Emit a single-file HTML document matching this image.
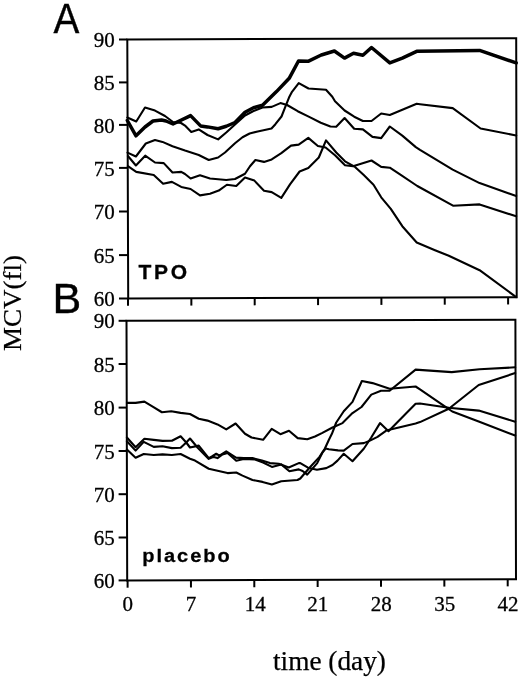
<!DOCTYPE html>
<html><head><meta charset="utf-8"><style>
html,body{margin:0;padding:0;background:#fff;}
body{width:520px;height:677px;overflow:hidden;}
svg{display:block;will-change:transform;}
.num{font-family:"Liberation Serif",serif;font-size:21px;stroke:#000;stroke-width:0.3px;}
.ttl{font-family:"Liberation Serif",serif;font-size:27.3px;stroke:#000;stroke-width:0.25px;}
.mcv{font-family:"Liberation Serif",serif;font-size:27px;stroke:#000;stroke-width:0.25px;}
.big{font-family:"Liberation Sans",sans-serif;font-size:43px;stroke:#000;stroke-width:0.4px;}
.tpo{font-family:"Liberation Sans",sans-serif;font-weight:bold;font-size:21px;letter-spacing:2.7px;stroke:#000;stroke-width:0.3px;}
.plc{font-family:"Liberation Sans",sans-serif;font-weight:bold;font-size:20px;letter-spacing:2.0px;stroke:#000;stroke-width:0.3px;}
</style></head><body>
<svg width="520" height="677" viewBox="0 0 520 677">
<g fill="none" stroke="#000" stroke-linejoin="round" stroke-linecap="round">
<polygon points="127.3,39.5 516.2,38.2 516.7,297.2 128.2,298.5" stroke-width="2.0" stroke-linejoin="miter"/>
<polygon points="126.5,320.8 515.4,319.8 516,579.3 127.2,580.4" stroke-width="2.0" stroke-linejoin="miter"/>
<line x1="119" y1="39.5" x2="127.3" y2="39.5" stroke-width="2.0" stroke-linecap="butt"/>
<line x1="119" y1="82.4" x2="127.449" y2="82.4" stroke-width="2.0" stroke-linecap="butt"/>
<line x1="119" y1="124.9" x2="127.597" y2="124.9" stroke-width="2.0" stroke-linecap="butt"/>
<line x1="119" y1="167.9" x2="127.746" y2="167.9" stroke-width="2.0" stroke-linecap="butt"/>
<line x1="119" y1="211.5" x2="127.898" y2="211.5" stroke-width="2.0" stroke-linecap="butt"/>
<line x1="119" y1="255.1" x2="128.049" y2="255.1" stroke-width="2.0" stroke-linecap="butt"/>
<line x1="119" y1="298.5" x2="128.2" y2="298.5" stroke-width="2.0" stroke-linecap="butt"/>
<line x1="128" y1="298.5" x2="128" y2="305.8" stroke-width="2.0" stroke-linecap="butt"/>
<line x1="191.35" y1="298.276" x2="191.35" y2="305.576" stroke-width="2.0" stroke-linecap="butt"/>
<line x1="254.7" y1="298.052" x2="254.7" y2="305.352" stroke-width="2.0" stroke-linecap="butt"/>
<line x1="318.05" y1="297.828" x2="318.05" y2="305.128" stroke-width="2.0" stroke-linecap="butt"/>
<line x1="381.4" y1="297.604" x2="381.4" y2="304.904" stroke-width="2.0" stroke-linecap="butt"/>
<line x1="444.75" y1="297.38" x2="444.75" y2="304.68" stroke-width="2.0" stroke-linecap="butt"/>
<line x1="508.1" y1="297.156" x2="508.1" y2="304.456" stroke-width="2.0" stroke-linecap="butt"/>
<line x1="118.6" y1="320.8" x2="126.5" y2="320.8" stroke-width="2.0" stroke-linecap="butt"/>
<line x1="118.6" y1="364" x2="126.616" y2="364" stroke-width="2.0" stroke-linecap="butt"/>
<line x1="118.6" y1="407.6" x2="126.734" y2="407.6" stroke-width="2.0" stroke-linecap="butt"/>
<line x1="118.6" y1="451" x2="126.851" y2="451" stroke-width="2.0" stroke-linecap="butt"/>
<line x1="118.6" y1="494.2" x2="126.968" y2="494.2" stroke-width="2.0" stroke-linecap="butt"/>
<line x1="118.6" y1="537.5" x2="127.084" y2="537.5" stroke-width="2.0" stroke-linecap="butt"/>
<line x1="118.6" y1="580.4" x2="127.2" y2="580.4" stroke-width="2.0" stroke-linecap="butt"/>
<line x1="127.6" y1="580.4" x2="127.6" y2="587.7" stroke-width="2.0" stroke-linecap="butt"/>
<line x1="190.95" y1="580.176" x2="190.95" y2="587.476" stroke-width="2.0" stroke-linecap="butt"/>
<line x1="254.3" y1="579.952" x2="254.3" y2="587.252" stroke-width="2.0" stroke-linecap="butt"/>
<line x1="317.65" y1="579.728" x2="317.65" y2="587.028" stroke-width="2.0" stroke-linecap="butt"/>
<line x1="381" y1="579.504" x2="381" y2="586.804" stroke-width="2.0" stroke-linecap="butt"/>
<line x1="444.35" y1="579.28" x2="444.35" y2="586.58" stroke-width="2.0" stroke-linecap="butt"/>
<line x1="507.7" y1="579.056" x2="507.7" y2="586.356" stroke-width="2.0" stroke-linecap="butt"/>
<polyline points="127.3,117.5 136.25,121.5 145,107.5 155,110.6 165,116 173,122 181,123 185,125.6 191.25,131.9 198.75,129.4 207.5,135 218.1,139.4 226.25,132.5 235,124.5 245,115.5 253.5,111 262.5,107.5 271.7,106.9 280.4,103.1 287.1,105 297.7,111.2 309.2,116.9 320.8,122.7 330.4,126.5 336.2,126.7 344.6,118 354.2,128.8 362.9,129.4 372.5,136.9 381.2,138.1 389.8,126.5 402.3,135.6 415.8,147.1 420,149.8 452.7,169.6 479.6,183.1 516.2,196" stroke-width="2.1"/>
<polyline points="127.5,152.6 135.9,156.5 145.8,143.5 155,140 162.5,141.9 172.5,146.25 185,150.6 198.75,155 208.75,160 218.1,157.5 225,152.5 235,143.3 242.5,137.2 249.6,133.5 257.7,131.5 271.5,128.5 275.4,124.2 281.5,116.5 285,107.6 289,97.6 292,91.8 298.75,83.1 308.5,88.5 326,89.7 332.3,96.7 335,101.3 344.6,110.5 354.2,116.7 362.9,121 371.5,121 381.2,113.5 389.8,115 416.7,103.8 420,104.2 452.7,108.1 480.6,128.5 516.2,135.5" stroke-width="2.1"/>
<polyline points="127.9,156 135.9,165.5 145.2,155.7 155,162.5 163.75,163.1 172.5,172.5 181.25,171.9 185,174 190.6,178.5 200,175.25 210,178.5 226.25,180 235,179 245,173.75 250,166.25 255.4,160 264,161.9 271.7,159.4 281.3,153.1 291,145.6 298.7,144.6 308.3,137.9 317.9,146 325.6,147.5 335,155.3 345,165.3 353,166.3 371.5,160.5 381.2,166.9 389.8,167.7 400,174.4 417.3,186 453,205.7 479.6,204.4 516.2,216.3" stroke-width="2.1"/>
<polyline points="127.9,166.2 136.25,171.9 153.75,175 163.1,183.75 171.9,181.9 181.25,186.9 190.6,189 200,195.4 210,193.75 218.75,190.6 226.9,184.75 236.25,186 245,177.5 254.4,180.6 264,190.8 271.7,192.1 281.3,197.9 290,184.4 299.6,171.5 308.3,168.1 318.8,157.5 326,140.4 336.25,152.5 345,161.3 355,166.9 363.75,175 373.5,184.8 381.2,197.3 390.8,208.8 402.3,226.2 416.7,242.5 435,250.2 448.8,255.8 479.6,270.2 516.2,297.1" stroke-width="2.1"/>
<polyline points="127.3,120.5 136,135.8 145,127 153,121 161.5,120 166,121 173,124 190.6,115.6 200.6,125.9 207.5,126.9 218.1,128.75 226.25,126.25 235,122.5 245,112.3 253.5,107.8 262.5,105.3 276.5,91.6 289.2,78.3 298.5,61 308.1,61.3 321.25,55 334.4,51 344.5,58.1 353.5,53.2 362.9,55.2 371.5,47.5 389.8,62.9 402.3,58.1 416.7,51.3 479.6,50.4 516.2,62.9" stroke-width="3.5"/>
<polyline points="126.9,402.9 135.6,402.9 144.4,401.6 153.1,406.9 161.9,412.25 171.25,411.25 180.6,412.9 190,414 198.75,418.75 207.5,420.6 217.5,424.4 226.25,429.4 235.6,423.5 245,433.75 251.5,437.5 263.1,439.8 271.7,428.8 280.4,434.2 289,430.8 297.7,438.1 307.3,439.2 315,436.5 321.9,433.1 332.5,427.5 342.5,423.1 352.5,413.1 361.5,407 371.3,394.6 381,390.7 389.6,390.8 415.6,369.6 430,370.6 451.7,372.1 479.6,369.2 515.2,367.3" stroke-width="2.1"/>
<polyline points="126.9,437.5 135.6,447.2 144.4,438.75 153.75,439.9 162.5,440.9 171.9,440.8 180.6,436.25 186.25,442.5 190,447.5 198.75,445.6 208.75,458.1 211.9,456.5 216.25,453.75 219.4,455.6 226.25,451.3 236,457.6 243.75,458.1 252.5,458.1 261.9,460.6 270,463.1 278.75,463.75 288.75,467.5 298.75,463.1 300.3,463.1 308,467.7 316.9,469.7 326.25,468.1 332.5,465 337.5,460.6 343.75,453.75 352.5,461.25 363.75,448.75 371.25,437.5 380,423.1 388.5,431.2 415.6,403.8 420,403.5 448.8,407.7 478.7,410.6 515.2,421.7" stroke-width="2.1"/>
<polyline points="126.9,441.25 135.6,450.6 143.75,441.9 153.75,446.9 162.5,446.25 171.9,448.1 180.6,447.75 186.25,442.5 190,438.5 197.5,447.5 208.75,458.9 213.75,456.9 217.5,458.1 222.5,454.4 227.5,453 236.25,460.8 243.75,459 255,459.4 263.1,462.5 271.9,466.9 281.25,464.4 289.4,471.25 298.75,469.4 302.6,471 307.2,474.6 317.2,463.1 322.6,452.3 325.7,448.5 328.8,449.2 338,450.4 343.75,450.6 352.5,444 363.75,443.1 370,440.6 377.5,436.9 386.25,430.6 415.6,423.5 420,422.1 448.8,408.7 478.7,385 515.2,373.1" stroke-width="2.1"/>
<polyline points="126.9,449.4 135.6,457.75 143.75,454 153.75,455 162.5,454.4 171.9,455 180.6,454 190,458.75 195,460.6 208.75,468.75 227.5,473.1 236.25,472.5 242.5,475.6 252.5,480 262.5,481.9 271.9,484.4 281.25,481.25 297.5,480 300.3,478.5 309.5,467.7 319.5,456.9 324.9,448.5 328.8,440 331.9,433.8 336.25,422.5 343.75,411.25 352.5,401.9 361.9,381 372.5,383.1 389.6,388.8 415.6,386.5 420,389.4 447.7,408.3 452.3,411.5 478.7,421.6 515.2,435.6" stroke-width="2.1"/>
</g>
<g fill="#000" stroke="none">
<text x="114.8" y="47.1" class="num" text-anchor="end">90</text>
<text x="114.8" y="90" class="num" text-anchor="end">85</text>
<text x="114.8" y="132.5" class="num" text-anchor="end">80</text>
<text x="114.8" y="175.5" class="num" text-anchor="end">75</text>
<text x="114.8" y="219.1" class="num" text-anchor="end">70</text>
<text x="114.8" y="262.7" class="num" text-anchor="end">65</text>
<text x="114.8" y="306.1" class="num" text-anchor="end">60</text>
<text x="114.8" y="328.4" class="num" text-anchor="end">90</text>
<text x="114.8" y="371.6" class="num" text-anchor="end">85</text>
<text x="114.8" y="415.2" class="num" text-anchor="end">80</text>
<text x="114.8" y="458.6" class="num" text-anchor="end">75</text>
<text x="114.8" y="501.8" class="num" text-anchor="end">70</text>
<text x="114.8" y="545.1" class="num" text-anchor="end">65</text>
<text x="114.8" y="588" class="num" text-anchor="end">60</text>
<text x="127.8" y="611" class="num" text-anchor="middle">0</text>
<text x="190.95" y="611" class="num" text-anchor="middle">7</text>
<text x="255.3" y="611" class="num" text-anchor="middle">14</text>
<text x="317.85" y="611" class="num" text-anchor="middle">21</text>
<text x="381.3" y="611" class="num" text-anchor="middle">28</text>
<text x="444.65" y="611" class="num" text-anchor="middle">35</text>
<text x="508" y="611" class="num" text-anchor="middle">42</text>
<text transform="translate(53.5,32.5) scale(0.9,1)" class="big">A</text>
<text transform="translate(52.4,312.8) scale(1.0,1)" class="big">B</text>
<text x="138.6" y="279.2" class="tpo">TPO</text>
<text transform="translate(142.2,561.9) scale(1,0.95)" class="plc">placebo</text>
<text x="273" y="669.5" class="ttl">time (day)</text>
<text transform="translate(20.9,351) rotate(-90) scale(1,0.93)" class="mcv">MCV(fl)</text>
</g>
</svg>
</body></html>
